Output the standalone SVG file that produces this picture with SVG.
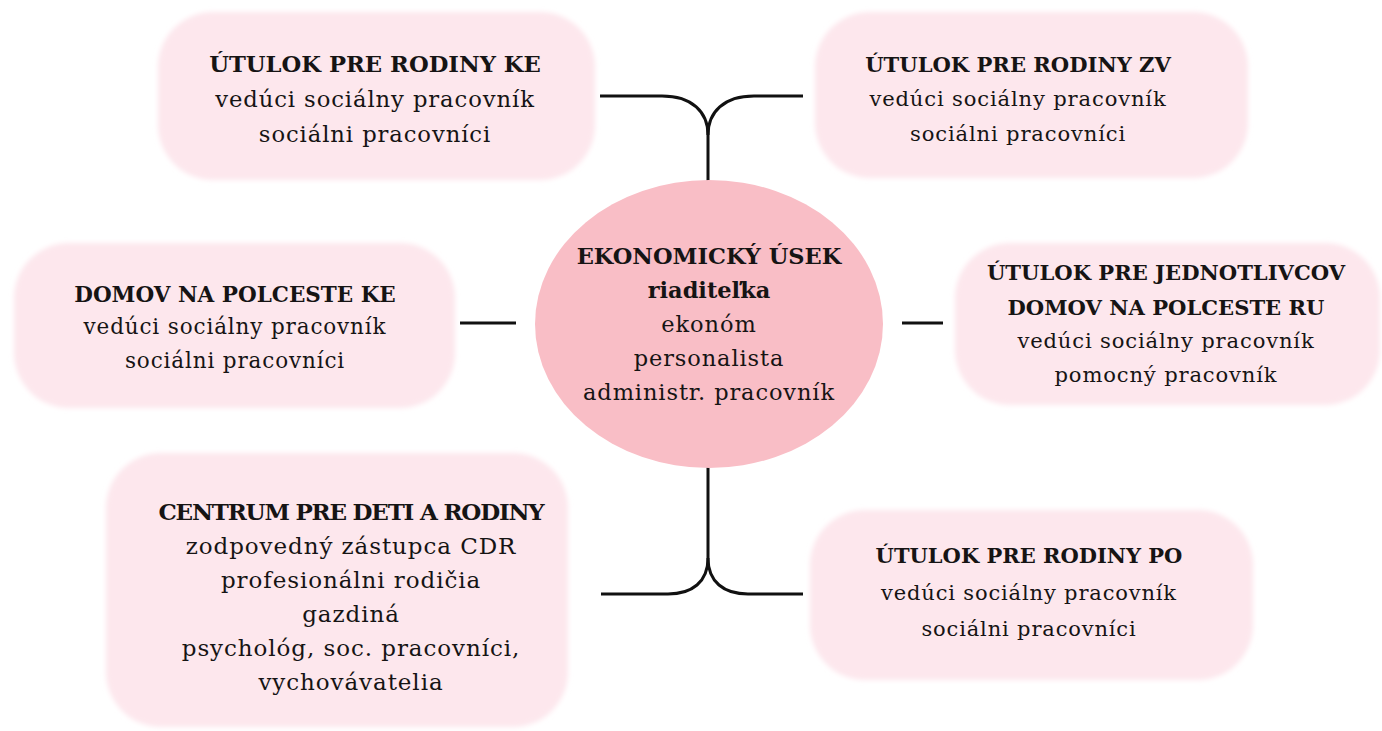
<svg xmlns="http://www.w3.org/2000/svg" width="1382" height="731" viewBox="0 0 1382 731">
<defs>
<filter id="soft" x="-5%" y="-10%" width="110%" height="120%"><feGaussianBlur stdDeviation="2.5"/></filter>
</defs>
<style>
.box{fill:#fde7ed;filter:url(#soft)}
.center{fill:#f9bec6}
.t{font-family:"DejaVu Serif","Liberation Serif",serif;fill:#161414;text-anchor:middle;letter-spacing:0.04em}
.h{font-weight:bold;letter-spacing:0}
.conn{fill:none;stroke:#111;stroke-width:3}
</style>
<rect width="1382" height="731" fill="#ffffff"/>
<g id="connectors">
<path class="conn" d="M600,96 H662 C692,96 708,112 708,135 V181"/>
<path class="conn" d="M803,96 H754 C724,96 708,112 708,135"/>
<path class="conn" d="M708,467 V558 C708,582 692,594 668,594 H601"/>
<path class="conn" d="M708,558 C708,582 724,594 748,594 H803"/>
<path class="conn" d="M460,323 H516"/>
<path class="conn" d="M902,323 H943"/>
</g>
<g id="node-center">
<ellipse class="center" cx="709" cy="324" rx="174" ry="144"/>
<text class="t" font-size="22.5" x="709"><tspan class="h" x="709" y="264">EKONOMICKÝ ÚSEK</tspan><tspan class="h" x="709" y="298">riaditeľka</tspan><tspan x="709" y="332">ekonóm</tspan><tspan x="709" y="366">personalista</tspan><tspan x="709" y="400">administr. pracovník</tspan></text>
</g>
<g id="node-tl">
<rect class="box" x="158" y="12" width="437" height="168" rx="55"/>
<text class="t" font-size="22.7"><tspan class="h" x="375" y="72">ÚTULOK PRE RODINY KE</tspan><tspan x="375" y="107">vedúci sociálny pracovník</tspan><tspan x="375" y="142">sociálni pracovníci</tspan></text>
</g>
<g id="node-tr">
<rect class="box" x="815" y="12" width="433" height="166" rx="55"/>
<text class="t" font-size="21.1"><tspan class="h" x="1018" y="72">ÚTULOK PRE RODINY ZV</tspan><tspan x="1018" y="106">vedúci sociálny pracovník</tspan><tspan x="1018" y="141">sociálni pracovníci</tspan></text>
</g>
<g id="node-ml">
<rect class="box" x="14" y="243" width="441" height="165" rx="55"/>
<text class="t" font-size="21.5"><tspan class="h" x="235" y="302">DOMOV NA POLCESTE KE</tspan><tspan x="235" y="334">vedúci sociálny pracovník</tspan><tspan x="235" y="368">sociálni pracovníci</tspan></text>
</g>
<g id="node-mr">
<rect class="box" x="955" y="243" width="425" height="162" rx="55"/>
<text class="t" font-size="21.1"><tspan class="h" x="1166" y="280">ÚTULOK PRE JEDNOTLIVCOV</tspan><tspan class="h" x="1166" y="315">DOMOV NA POLCESTE RU</tspan><tspan x="1166" y="348">vedúci sociálny pracovník</tspan><tspan x="1166" y="382">pomocný pracovník</tspan></text>
</g>
<g id="node-bl">
<rect class="box" x="106" y="453" width="462" height="274" rx="55"/>
<text class="t" font-size="23"><tspan class="h" x="351" y="520" style="letter-spacing:-1.2px">CENTRUM PRE DETI A RODINY</tspan><tspan x="351" y="554">zodpovedný zástupca CDR</tspan><tspan x="351" y="588">profesionálni rodičia</tspan><tspan x="351" y="622">gazdiná</tspan><tspan x="351" y="656">psychológ, soc. pracovníci,</tspan><tspan x="351" y="690">vychovávatelia</tspan></text>
</g>
<g id="node-br">
<rect class="box" x="810" y="510" width="443" height="170" rx="55"/>
<text class="t" font-size="21"><tspan class="h" x="1029" y="563">ÚTULOK PRE RODINY PO</tspan><tspan x="1029" y="600">vedúci sociálny pracovník</tspan><tspan x="1029" y="636">sociálni pracovníci</tspan></text>
</g>
</svg>
